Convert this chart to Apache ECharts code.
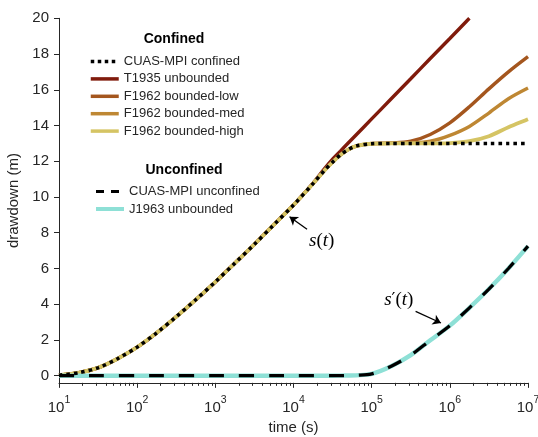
<!DOCTYPE html>
<html>
<head>
<meta charset="utf-8">
<script src="https://cdn.jsdelivr.net/npm/echarts@6/dist/echarts.min.js"></script>
<style>
  html, body { margin: 0; padding: 0; background: #fff; }
  #chart { width: 538px; height: 437px; }
</style>
</head>
<body>
<div id="chart"></div>
<script>
// sample times (s), shared by every curve
const times = [10, 18, 32, 56, 100, 178, 316, 562, 1000, 1780, 3160, 5620,
    10000, 17800, 25100, 31600, 39800, 50100, 63100, 100000, 178000, 316000,
    562000, 1000000, 1780000, 3160000, 5620000, 10000000];

// drawdown (m), one value per entry of `times`
const cuasConfined = [0.03, 0.17, 0.45, 0.95, 1.6, 2.4, 3.3, 4.25, 5.25, 6.3, 7.35, 8.45,
    9.55, 10.75, 11.5, 11.95, 12.35, 12.65, 12.85, 12.98, 13.0, 13.0,
    13.0, 13.0, 13.0, 13.0, 13.0, 13.0];
const t1935 = [0.03, 0.17, 0.45, 0.95, 1.6, 2.4, 3.3, 4.25, 5.25, 6.3, 7.35, 8.45,
    9.55, 10.78, 11.6, 12.12, 12.57, 13.02, 13.47, 14.37, 15.5, 16.62,
    17.75, 18.87, 20.0, null, null, null];
const f1962Low = [0.03, 0.17, 0.45, 0.95, 1.6, 2.4, 3.3, 4.25, 5.25, 6.3, 7.35, 8.45,
    9.55, 10.75, 11.5, 11.95, 12.35, 12.65, 12.85, 13.0, 13.02, 13.12,
    13.5, 14.15, 15.05, 16.05, 17.0, 17.85];
const f1962Med = [0.03, 0.17, 0.45, 0.95, 1.6, 2.4, 3.3, 4.25, 5.25, 6.3, 7.35, 8.45,
    9.55, 10.75, 11.5, 11.95, 12.35, 12.65, 12.85, 12.98, 13.0, 13.02,
    13.12, 13.45, 13.95, 14.7, 15.5, 16.1];
const f1962High = [0.03, 0.17, 0.45, 0.95, 1.6, 2.4, 3.3, 4.25, 5.25, 6.3, 7.35, 8.45,
    9.55, 10.75, 11.5, 11.95, 12.35, 12.65, 12.85, 12.98, 13.0, 13.0,
    13.0, 13.02, 13.12, 13.4, 13.9, 14.35];
const cuasUnconfined = [0, 0, 0, 0, 0, 0, 0, 0, 0, 0, 0, 0,
    0, 0, 0, 0, 0.005, 0.01, 0.02, 0.1, 0.53, 1.15,
    1.98, 2.8, 3.8, 4.85, 6.0, 7.25];
const j1963 = cuasUnconfined.slice();

// axis ticks
const yTicks = [0, 2, 4, 6, 8, 10, 12, 14, 16, 18, 20];
const decades = [10, 100, 1000, 10000, 100000, 1000000, 10000000];
const minorTicks = [];
for (const d of decades.slice(0, -1)) {
    for (let k = 2; k <= 9; k++) minorTicks.push(d * k);
}

// annotation arrows: [text anchor, arrow tail, arrow tip] in data coordinates
const notes = [
    { text: '{i|s}({i|t})', at: [23000, 7.55], from: [14900, 8.2], to: [8900, 8.9] },
    { text: '{i|s}{p|′}({i|t})', at: [222000, 4.25], from: [365000, 3.6], to: [770000, 2.95] },
];

const FONT = '"Liberation Sans", Arial, Helvetica, sans-serif';
const INK = '#262626';

const pairs = (ys) => times.map((t, i) => [t, ys[i]]);

const lineSeries = (name, ys, color, width, type, z) => ({
    name,
    type: 'line',
    data: pairs(ys),
    symbol: 'none',
    showSymbol: false,
    smooth: 0.3,
    z,
    lineStyle: { color, width, type },
    itemStyle: { color },
});

const chart = echarts.init(document.getElementById('chart'));

const confinedSeries = lineSeries('CUAS-MPI confined', cuasConfined, '#000', 3.5, [3.5, 4], 10);
confinedSeries.markLine = {
    silent: true,
    symbol: ['none', 'arrow'],
    symbolSize: 8,
    label: { show: false },
    lineStyle: { color: '#000', width: 1.3, type: 'solid' },
    data: notes.map((n) => [{ coord: n.from }, { coord: n.to }]),
};

const legendBase = {
    orient: 'vertical',
    padding: 0,
    itemWidth: 28,
    itemHeight: 14,
    selectedMode: false,
    itemStyle: { opacity: 0 },
    lineStyle: { width: 3.5 },
    textStyle: { fontSize: 13, color: INK, fontFamily: FONT },
};

chart.setOption({
    animation: false,
    textStyle: { fontFamily: FONT },
    grid: { left: 59, right: 10, top: 18.3, bottom: 54.15, outerBoundsMode: 'none', containLabel: false },
    xAxis: [
        {
            type: 'log',
            logBase: 10,
            min: 10,
            max: 10000000,
            name: 'time (s)',
            nameLocation: 'middle',
            nameGap: 35,
            nameTextStyle: { fontSize: 15, color: INK, fontFamily: FONT },
            axisLine: { onZero: false, lineStyle: { color: INK, width: 1 } },
            axisTick: { inside: false, length: 5, customValues: decades, lineStyle: { color: INK } },
            splitLine: { show: false },
            axisLabel: {
                customValues: decades,
                margin: 12,
                color: INK,
                formatter: (v) => '{b|10}{e|' + Math.round(Math.log10(v)) + '}',
                rich: {
                    b: { fontSize: 15, color: INK, fontFamily: FONT },
                    e: { fontSize: 10.5, color: INK, fontFamily: FONT, padding: [0, 0, 15, 0] },
                },
            },
        },
        {
            type: 'log',
            logBase: 10,
            min: 10,
            max: 10000000,
            position: 'bottom',
            axisLine: { show: false, onZero: false },
            axisTick: { inside: false, length: 3, customValues: minorTicks, lineStyle: { color: INK } },
            axisLabel: { show: false },
            splitLine: { show: false },
        },
    ],
    yAxis: {
        type: 'value',
        min: -0.4,
        max: 20,
        name: 'drawdown (m)',
        nameLocation: 'middle',
        nameGap: 30,
        nameTextStyle: { fontSize: 15, color: INK, fontFamily: FONT },
        axisLine: { show: true, onZero: false, lineStyle: { color: INK, width: 1 } },
        axisTick: { show: true, inside: false, length: 5, customValues: yTicks, lineStyle: { color: INK } },
        axisLabel: { customValues: yTicks, margin: 10, fontSize: 15, color: INK },
        splitLine: { show: false },
    },
    legend: [
        Object.assign({}, legendBase, {
            left: 89,
            top: 55,
            itemGap: 4.4,
            data: [
                { name: 'CUAS-MPI confined', lineStyle: { type: [3.5, 3.5], width: 3.5 } },
                'T1935 unbounded',
                'F1962 bounded-low',
                'F1962 bounded-med',
                'F1962 bounded-high',
            ],
        }),
        Object.assign({}, legendBase, {
            left: 94,
            top: 185,
            itemGap: 4.5,
            data: [
                { name: 'CUAS-MPI unconfined', lineStyle: { type: [8, 7], width: 3 } },
                { name: 'J1963 unbounded', lineStyle: { width: 4 } },
            ],
        }),
    ],
    series: [
        lineSeries('T1935 unbounded', t1935, '#801b0c', 3.4, 'solid', 2),
        lineSeries('F1962 bounded-low', f1962Low, '#a4561e', 3.4, 'solid', 3),
        lineSeries('F1962 bounded-med', f1962Med, '#be8733', 3.4, 'solid', 4),
        lineSeries('F1962 bounded-high', f1962High, '#d5c464', 3.8, 'solid', 5),
        confinedSeries,
        lineSeries('J1963 unbounded', j1963, '#8ee0d6', 4.4, 'solid', 6),
        lineSeries('CUAS-MPI unconfined', cuasUnconfined, '#000', 3.2, [15, 15], 11),
    ],
});

// legend group headings and the s(t) annotations
const toPx = (p) => chart.convertToPixel({ xAxisIndex: 0, yAxisIndex: 0 }, p);
const mathRich = {
    i: { fontFamily: '"Liberation Serif", "DejaVu Serif", serif', fontStyle: 'italic', fontSize: 19, color: '#000' },
    p: { fontFamily: '"DejaVu Serif", serif', fontSize: 17, color: '#000' },
};
chart.setOption({
    graphic: [
        { type: 'text', x: 174, y: 39, z: 100,
          style: { text: 'Confined', font: 'bold 14px ' + FONT, fill: '#000', align: 'center', verticalAlign: 'middle' } },
        { type: 'text', x: 184, y: 170, z: 100,
          style: { text: 'Unconfined', font: 'bold 14px ' + FONT, fill: '#000', align: 'center', verticalAlign: 'middle' } },
    ].concat(notes.map((n) => {
        const [x, y] = toPx(n.at);
        return {
            type: 'text', x, y, z: 100,
            style: {
                text: n.text,
                rich: mathRich,
                fontFamily: '"Liberation Serif", "DejaVu Serif", serif',
                fontSize: 19,
                fill: '#000',
                align: 'center',
                verticalAlign: 'middle',
            },
        };
    })),
});
</script>
</body>
</html>
